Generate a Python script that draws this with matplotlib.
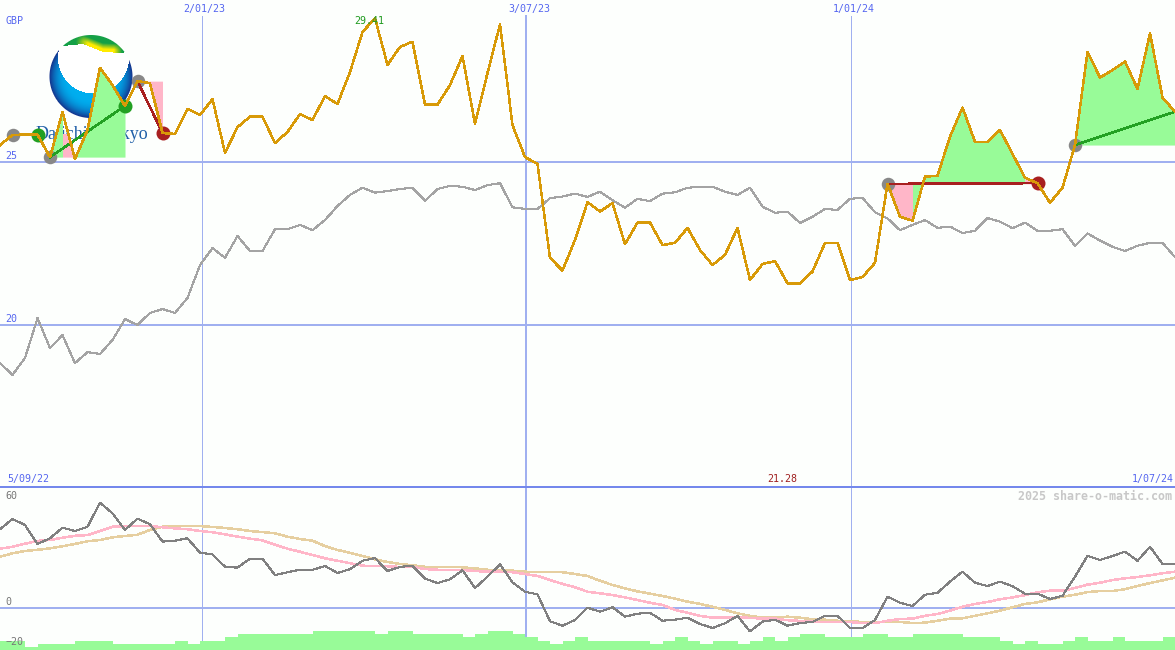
import numpy as np
import matplotlib
matplotlib.use("Agg")
import matplotlib.pyplot as plt
from matplotlib.patches import Rectangle

# ---- data -----------------------------------------------------------------
price = [25.52,25.83,25.84,25.84,25.15,26.53,25.09,25.98,27.89,27.36,26.72,27.48,27.42,25.89,25.86,26.63,26.44,26.93,25.28,26.07,
         26.39,26.39,25.58,25.92,26.47,26.29,27.02,26.78,27.76,28.99,29.41,27.98,28.53,28.69,26.76,26.76,27.36,28.25,26.17,27.73,
         29.22,26.13,25.15,24.94,22.06,21.67,22.61,23.77,23.48,23.74,22.48,23.14,23.14,22.45,22.52,22.98,22.30,21.84,22.15,22.98,
         21.38,21.87,21.96,21.28,21.28,21.64,22.52,22.52,21.38,21.47,21.91,24.33,23.32,23.20,24.55,24.58,25.78,26.67,25.62,25.62,
         25.98,25.25,24.52,24.35,23.75,24.21,25.52,28.38,27.59,27.82,28.08,27.24,28.95,26.98,26.54]
index_line = [18.83,18.47,18.99,20.21,19.29,19.69,18.83,19.17,19.11,19.54,20.18,20.00,20.37,20.49,20.37,20.83,21.84,22.36,22.06,22.73,
              22.27,22.27,22.94,22.94,23.07,22.91,23.22,23.65,23.99,24.21,24.06,24.11,24.17,24.21,23.81,24.17,24.27,24.24,24.14,24.29,
              24.35,23.61,23.56,23.56,23.89,23.94,24.03,23.93,24.09,23.83,23.60,23.87,23.80,24.03,24.07,24.21,24.24,24.24,24.09,23.99,
              24.21,23.63,23.44,23.48,23.13,23.32,23.56,23.53,23.87,23.90,23.46,23.27,22.91,23.07,23.22,22.98,23.02,22.82,22.89,23.28,
              23.17,22.97,23.14,22.89,22.89,22.94,22.43,22.81,22.59,22.40,22.27,22.43,22.52,22.52,22.08]
osc = [44.5,50.3,46.9,36.2,39.4,45.4,43.5,45.9,59.5,53.5,44.1,50.5,47.3,37.5,38.0,39.4,31.2,30.3,23.3,22.8,
       27.9,27.9,18.6,20.2,21.6,21.6,23.7,19.8,21.9,26.7,28.2,20.9,23.2,23.9,16.6,14.1,16.2,21.3,11.3,17.7,
       24.7,14.5,9.2,7.7,-7.5,-10.0,-6.8,0.2,-2.1,0.4,-4.9,-3.2,-2.7,-7.2,-6.6,-5.5,-9.0,-11.3,-8.6,-4.5,
       -13.2,-7.7,-6.6,-10.0,-8.5,-7.9,-4.4,-4.4,-11.3,-11.3,-6.8,6.4,3.0,1.1,7.5,8.6,14.9,20.5,14.3,12.4,
       14.9,12.3,8.1,8.1,5.1,6.9,17.7,29.5,27.1,29.4,31.8,26.7,34.6,24.9,24.9]
osc_fast = [33.5,34.6,36.3,37.9,38.4,39.7,40.8,41.2,43.5,45.9,46.3,46.3,46.3,45.6,45.0,44.5,43.5,42.8,41.6,40.3,
            39.2,38.2,35.8,33.5,31.8,29.9,28.1,26.7,25.3,23.9,23.7,23.6,23.2,23.2,22.0,21.6,21.6,21.5,20.9,20.5,
            20.5,20.2,19.2,18.1,15.8,13.6,11.7,9.2,8.3,7.3,6.0,4.5,3.0,1.7,-1.1,-2.7,-4.4,-5.5,-5.5,-5.1,
            -5.6,-6.0,-6.0,-6.9,-7.3,-7.7,-7.9,-7.9,-7.9,-8.6,-8.6,-7.2,-6.2,-6.0,-4.4,-3.4,-1.5,0.7,2.3,3.4,
            4.9,6.0,7.3,8.9,9.8,9.8,11.3,13.2,14.3,15.8,16.8,17.5,18.5,19.6,20.5]
osc_slow = [29.0,30.9,32.2,32.9,33.7,34.9,36.2,37.7,38.4,39.9,40.7,41.4,44.1,45.9,46.3,46.3,46.3,45.8,45.2,44.5,
            43.5,42.9,42.2,40.3,39.0,38.0,35.0,32.8,31.2,29.4,27.5,26.0,24.9,24.1,23.3,23.2,23.2,23.0,22.4,21.6,
            21.6,21.1,20.5,20.3,20.3,20.2,19.2,18.1,15.4,13.0,11.1,9.4,8.1,6.8,5.3,3.6,2.3,0.7,-1.1,-3.0,
            -4.4,-5.5,-5.5,-4.9,-5.5,-6.4,-6.6,-7.2,-7.5,-7.9,-7.9,-7.9,-7.9,-8.5,-8.3,-7.2,-6.0,-5.8,-4.4,-3.0,
            -1.5,0.4,2.3,3.2,4.9,6.4,7.5,9.0,9.6,9.6,10.6,12.4,14.1,15.6,17.1]
volume = [3,3,1,2,2,2,3,3,3,2,2,2,2,2,3,2,3,3,4,5,5,5,5,5,5,6,6,6,6,6,5,6,6,5,5,5,5,4,5,6,6,5,4,3,2,3,4,3,3,3,3,3,2,3,4,3,2,3,3,2,
          3,4,3,4,5,5,4,4,4,5,5,4,4,5,5,5,5,4,4,4,3,2,3,2,2,3,4,3,3,4,3,3,3,4]
date_ticks = [16, 42, 68]
date_labels = ["2/01/23", "3/07/23", "1/01/24"]
price_ticks = [25, 20]
osc_ticks = [60, 0, -20]
first_date, last_date = "5/09/22", "1/07/24"
high_label, low_label = "29.41", "21.28"
# trades: entry index, exit index, colour of connecting line / exit dot, closed?
trades = [(1, 3, "win", True), (4, 10, "win", True), (11, 13, "loss", True), (71, 83, "loss", True), (86, 94, "win", False)]
# fill segments: first index of each losing segment inside a trade
loss_segments = [5, 11, 12, 71, 72, 82]

# ---- styles ---------------------------------------------------------------
BG = "#FDFFFD"; GRID = "#A0B0F0"; HEAD = "#7488EC"; TXT = "#5566F0"
ORANGE = "#D89A08"; GRAY = "#A4A4A4"; DARK = "#808080"; PINK = "#FFB6C8"; TAN = "#E6CFA0"
FILLG = "#98FB98"; FILLP = "#FFB6C8"; WIN = "#22A022"; LOSS = "#A82020"
W, H = 1175, 650
px = 0.72
plt.rcParams["font.family"] = ["DejaVu Sans Mono"]
fig = plt.figure(figsize=(W / 100, H / 100), dpi=100, facecolor=BG)

def box(top, bottom):
    return [0, 1 - bottom / H, 1, (bottom - top) / H]

ax = fig.add_axes(box(0, 487))
ax2 = fig.add_axes(box(487, 650))
ax3 = ax2.twinx()
x = np.arange(len(price))
for a in (ax, ax2, ax3):
    a.set_xlim(0, 94)
    a.set_xticks([]); a.set_yticks([])
    a.patch.set_visible(False)
    for s in a.spines.values():
        s.set_visible(False)
PXU = 32.6
ax.set_ylim(25 - 325 / PXU, 25 + 162 / PXU)
OSC = 1.77
ax2.set_ylim(-42 / OSC, 121 / OSC)
ax3.set_ylim(0, 163 / 3.15)
ax3.set_zorder(3); ax2.set_zorder(2); ax.set_zorder(1)

# ---- logo (drawn under everything) ----------------------------------------
yy, xx = np.mgrid[30:125, 45:140] + 0.5
d = np.hypot(xx - 91, yy - 76.5)
inner = np.hypot(xx - 93.5, yy - 58)
img = np.ones(xx.shape + (4,))
t = np.clip((d - 22) / 19.5, 0, 1)[..., None]
c1 = np.array([0, 174, 239]) / 255; c2 = np.array([20, 50, 140]) / 255
t2 = t ** 2.2
img[..., :3] = c1 * (1 - t2) + c2 * t2
img[inner < 35.5, :3] = 1
wave = np.interp(xx, [55, 63, 83, 103, 123, 130], [50, 46, 44, 52, 53, 50])
top = yy < wave
g = (np.clip((yy - (wave - 9)) / 6, 0, 1) * np.clip((xx - 76) / 12, 0, 1) * np.clip((122 - xx) / 8, 0, 1))[..., None]
sw = np.array([20, 160, 70]) / 255 * (1 - g) + np.array([255, 235, 0]) / 255 * g
img[top, :3] = sw[top]
img[..., 3] = np.clip(41.5 - d + 0.5, 0, 1)
fig.figimage(img, xo=45, yo=H - 125, origin="upper", zorder=0)
ax.text(91.5 / 12.5, 25 + (162 - 134) / PXU, "Daiichi-Sankyo", family="Liberation Serif", color="#1F5FA8",
        fontsize=18 * px, ha="center", va="center", zorder=1)

# ---- grid -----------------------------------------------------------------
GRID_SHIFTS = [0.12, 0.08, 0.04]
for a, (lo, hi) in ((ax, (0, 1 - 16 / 487)), (ax2, (0, 1))):
    for k, tick in enumerate(date_ticks):
        a.axvline(tick + GRID_SHIFTS[k], ymin=lo, ymax=hi, color=GRID, lw=(2 if k == 1 else 1) * px, zorder=2)
for v in price_ticks:
    ax.axhline(v, color=GRID, lw=2 * px, zorder=2)
ax2.axhline(0, color=GRID, lw=2 * px, zorder=1)
ax2.axhline(121 / OSC, color=HEAD, lw=2 * px, zorder=5, clip_on=False)

# ---- trade fills ----------------------------------------------------------
p = np.array(price)
for en, ex, kind, closed in trades[1:]:
    base = price[en]
    s = en
    while s < ex:
        is_loss = s in loss_segments
        e = s + 1
        while e < ex and (e in loss_segments) == is_loss:
            e += 1
        poly = ax.fill_between(x[s:e + 1], p[s:e + 1], base, color=FILLP if is_loss else FILLG, lw=0, zorder=3, antialiased=False)
        if s == 5:
            poly.set_clip_path(Rectangle((5, base), 2, 25.85 - base, transform=ax.transData))
        s = e

# ---- lines ----------------------------------------------------------------
ax.plot(x, index_line, color=GRAY, lw=1.1 * px, zorder=4, antialiased=False)
for en, ex, kind, closed in trades:
    ax.plot([en, ex], [price[en], price[ex]], color=WIN if kind == "win" else LOSS, lw=1.5 * px, zorder=6, antialiased=False)
    ax.plot(en, price[en], "o", ms=13.5 * px, color="#888888", mew=0, zorder=5, antialiased=False)
    if closed:
        ax.plot(ex, price[ex], "o", ms=14 * px, color=WIN if kind == "win" else LOSS, mew=0, zorder=5, antialiased=False)
ax.plot(x, price, color=ORANGE, lw=1.5 * px, zorder=7, antialiased=False)

ax3.bar(np.arange(len(volume)), volume, width=1, align="edge", color=FILLG, lw=0, zorder=1, antialiased=False)
ax2.plot(x, osc_slow, color=TAN, lw=1.5 * px, zorder=3, antialiased=False)
ax2.plot(x, osc_fast, color=PINK, lw=1.5 * px, zorder=3.2, antialiased=False)
ax2.plot(x, osc, color=DARK, lw=1.1 * px, zorder=4, antialiased=False)

# ---- labels ---------------------------------------------------------------
FS = 10 * px
def label(a, xi, y, s, color=TXT, ha="left", va="center", **kw):
    a.text(xi, y, s, color=color, fontsize=kw.pop("fs", FS), ha=ha, va=va, zorder=10, **kw)

yp = lambda row: 25 + (162 - row) / PXU
yo = lambda row: (608 - row) / OSC
for tick, s in zip(date_ticks, date_labels):
    label(ax, tick + 0.32, yp(8.5), s, ha="center")
label(ax, 0.45, yp(21), "GBP")
label(ax, 0.42, yp(155.5), str(price_ticks[0]))
label(ax, 0.42, yp(319), str(price_ticks[1]))
label(ax, 30 - 0.45, yp(21), high_label, color="#1E9A1E", ha="center")
label(ax2, 0.55, yo(479), first_date)
label(ax2, 93.88, yo(479), last_date, ha="right")
label(ax2, 62.55, yo(479), low_label, color="#A02020", ha="center")
label(ax2, 0.45, yo(496), str(osc_ticks[0]), color="#777777")
label(ax2, 0.45, yo(602), str(osc_ticks[1]), color="#777777")
ax3_y = lambda row: (650 - row) / 3.15
ax3.text(0.45, ax3_y(642), "\u2212" + str(-osc_ticks[2]), color="#777777", fontsize=FS, ha="left", va="center", zorder=10)
label(ax3, 93.75, ax3_y(496), "2025 share-o-matic.com", color="#C8C8C8", ha="right", fs=11.6 * px, fontweight="bold")

fig.savefig("out.png", dpi=100, facecolor=BG)
